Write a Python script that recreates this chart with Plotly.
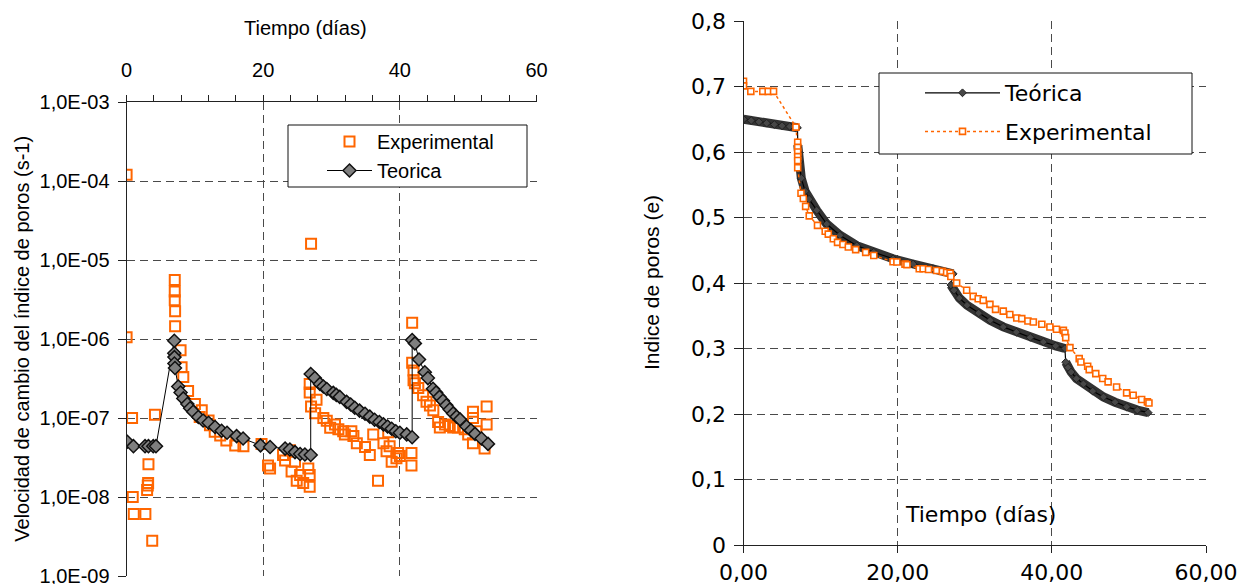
import plotly.graph_objects as go

# ---------------- Left panel: rate of change of void ratio (log scale) ----------------
t_exp_rate = [0.0, 0.0, 0.8, 0.9, 1.05, 2.75, 3.0, 3.1, 3.15, 3.2, 3.75, 4.15,
              7.05, 7.05, 7.05, 7.1, 7.1, 7.9, 8.05, 8.3, 9.0, 10.0, 10.7, 11.0,
              12.0, 12.2, 12.9, 13.7, 14.6, 15.9, 17.1, 19.75, 20.7, 21.0, 22.9,
              23.2, 23.9, 24.15, 24.65, 24.9, 25.4, 25.85, 26.6, 26.8, 26.8, 27.0,
              26.8, 26.8, 27.0, 27.6, 27.8, 28.8, 29.3, 29.8, 30.5, 31.0, 31.7,
              31.95, 32.9, 33.2, 33.7, 34.9, 35.6, 36.1, 36.8, 37.6, 38.05, 38.3,
              38.5, 38.8, 39.5, 39.75, 40.0, 41.7, 41.7, 41.8, 41.8, 42.0, 42.0,
              42.2, 42.7, 43.4, 43.9, 44.4, 44.9, 45.6, 45.85, 46.6, 47.3, 47.8,
              48.5, 49.5, 50.0, 50.7, 50.7, 50.7, 51.2, 52.4, 52.7, 52.7]
v_exp_rate = [1.2e-4, 1.05e-6, 1.0e-7, 1.0e-8, 6.1e-9, 6.1e-9, 1.23e-8, 1.4e-8,
              1.5e-8, 2.6e-8, 2.8e-9, 1.1e-7, 5.6e-6, 4.0e-6, 3.1e-6, 2.25e-6,
              1.45e-6, 7.2e-7, 4.4e-7, 3.3e-7, 2.2e-7, 1.5e-7, 1.03e-7, 1.25e-7,
              9.3e-8, 8.1e-8, 6.7e-8, 6.0e-8, 5.2e-8, 4.5e-8, 4.4e-8, 4.7e-8,
              2.5e-8, 2.3e-8, 3.4e-8, 2.9e-8, 3.9e-8, 2.1e-8, 2.8e-8, 1.6e-8,
              1.9e-8, 1.5e-8, 2.3e-8, 1.9e-8, 1.35e-8, 1.6e-5, 2.7e-7, 2.1e-7,
              1.4e-7, 1.15e-7, 1.7e-7, 1.0e-7, 9.2e-8, 7.5e-8, 8.3e-8, 7.2e-8,
              6.8e-8, 6.2e-8, 6.8e-8, 5.9e-8, 4.8e-8, 4.3e-8, 3.4e-8, 6.2e-8,
              1.6e-8, 4.8e-8, 3.8e-8, 6.6e-8, 4.4e-8, 2.8e-8, 3.1e-8, 3.6e-8,
              3.3e-8, 3.6e-8, 2.5e-8, 1.6e-6, 5.0e-7, 4.0e-7, 3.0e-7, 2.75e-7,
              2.4e-7, 1.94e-7, 1.6e-7, 1.44e-7, 1.25e-7, 8.9e-8, 7.6e-8, 8.3e-8,
              7.9e-8, 7.6e-8, 7.6e-8, 7.2e-8, 6.2e-8, 1.0e-7, 1.2e-7, 4.8e-8,
              6.8e-8, 4.1e-8, 8.3e-8, 1.4e-7]

t_teo_rate = [0.1, 1.0, 2.7, 3.2, 3.9, 4.3, 6.98, 6.98, 7.0, 7.0, 7.08, 7.56,
              7.9, 8.3, 8.9, 9.3, 9.75, 10.5, 11.2, 12.0, 12.95, 13.9, 14.7,
              16.1, 17.05, 19.6, 21.0, 23.2, 23.9, 24.65, 25.4, 26.1, 26.95,
              26.95, 27.55, 28.3, 28.8, 29.3, 30.25, 30.7, 31.2, 32.2, 32.8, 33.4,
              34.1, 34.9, 35.6, 36.3, 37.0, 37.6, 38.2, 38.8, 39.4, 40.0, 41.0,
              41.8, 41.8, 42.2, 42.8, 43.65, 44.1, 44.85, 45.3, 45.8, 46.3, 46.8,
              47.3, 47.8, 48.3, 48.8, 49.75, 50.4, 51.0, 51.95, 52.9]
v_teo_rate = [5.0e-8, 4.4e-8, 4.4e-8, 4.4e-8, 4.4e-8, 4.4e-8, 9.5e-7, 6.6e-7,
              5.9e-7, 4.9e-7, 4.3e-7, 2.5e-7, 2.1e-7, 1.77e-7, 1.5e-7, 1.33e-7,
              1.2e-7, 1.03e-7, 9.3e-8, 8.7e-8, 7.7e-8, 6.9e-8, 6.5e-8, 5.9e-8,
              5.5e-8, 4.5e-8, 4.3e-8, 4.1e-8, 4.0e-8, 3.7e-8, 3.5e-8, 3.45e-8,
              3.4e-8, 3.6e-7, 3.2e-7, 2.7e-7, 2.5e-7, 2.33e-7, 2.08e-7, 1.96e-7,
              1.85e-7, 1.6e-7, 1.48e-7, 1.35e-7, 1.24e-7, 1.13e-7, 1.04e-7,
              9.5e-8, 8.9e-8, 8.3e-8, 7.8e-8, 7.3e-8, 6.8e-8, 6.5e-8, 6.2e-8,
              5.7e-8, 9.7e-7, 8.8e-7, 5.5e-7, 3.8e-7, 3.2e-7, 2.35e-7, 2.1e-7,
              1.85e-7, 1.65e-7, 1.45e-7, 1.28e-7, 1.14e-7, 1.04e-7, 9.6e-8,
              7.8e-8, 7.0e-8, 6.3e-8, 5.5e-8, 4.7e-8]

rate_tickvals = [1e-9, 1e-8, 1e-7, 1e-6, 1e-5, 1e-4, 1e-3]
rate_ticktext = ["1,0E-09", "1,0E-08", "1,0E-07", "1,0E-06", "1,0E-05",
                 "1,0E-04", "1,0E-03"]
days_ticks = [0, 20, 40, 60]

# ---------------- Right panel: void ratio vs time ----------------
# theoretical curve, one array pair per loading stage
t_teo_s1 = [0.0, 1.0, 2.0, 3.0, 4.0, 5.0, 6.0, 7.0]
e_teo_s1 = [0.650, 0.648, 0.646, 0.644, 0.642, 0.640, 0.639, 0.637]
t_teo_s2 = [7.05, 7.2, 7.5, 8.0, 8.5, 9.5, 10.8, 12.5, 14.7, 16.9, 19.4, 22.0,
            24.6, 27.2]
e_teo_s2 = [0.610, 0.585, 0.560, 0.540, 0.528, 0.511, 0.490, 0.473, 0.457,
            0.447, 0.437, 0.429, 0.422, 0.414]
t_teo_s3 = [26.9, 27.3, 28.0, 29.0, 30.5, 32.0, 33.7, 35.4, 37.2, 38.9, 40.5,
            41.7]
e_teo_s3 = [0.397, 0.389, 0.377, 0.366, 0.354, 0.343, 0.333, 0.325, 0.317,
            0.310, 0.304, 0.300]
t_teo_s4 = [41.8, 42.1, 42.5, 43.2, 44.1, 45.3, 46.7, 48.2, 49.7, 51.1, 52.5]
e_teo_s4 = [0.279, 0.271, 0.264, 0.254, 0.246, 0.235, 0.226, 0.218, 0.211,
            0.206, 0.202]

t_exp_e = [0.0, 0.0, 0.95, 2.5, 3.2, 3.9, 6.8, 7.03, 7.03, 7.03, 7.03, 7.03,
           7.03, 7.46, 7.76, 8.06, 8.53, 9.6, 10.6, 11.0, 11.65, 12.2, 12.9,
           13.6, 14.55, 15.85, 16.9, 19.4, 19.9, 20.95, 21.2, 22.8, 23.3, 24.0,
           25.05, 25.8, 26.35, 26.8, 26.9, 27.65, 28.95, 29.8, 30.45, 31.1,
           31.97, 32.7, 33.7, 34.55, 35.45, 36.1, 36.9, 37.6, 38.7, 39.75, 40.6,
           41.5, 41.7, 41.8, 42.35, 43.55, 43.77, 44.65, 44.85, 45.7, 46.6, 47.3,
           48.4, 49.7, 50.55, 51.65, 52.4, 52.6]
e_exp_e = [0.708, 0.701, 0.6925, 0.6925, 0.6925, 0.6925, 0.638, 0.615, 0.607,
           0.600, 0.593, 0.587, 0.576, 0.537, 0.529, 0.517, 0.5025, 0.488, 0.479,
           0.4746, 0.4675, 0.462, 0.4588, 0.455, 0.451, 0.4467, 0.442, 0.4325,
           0.432, 0.4288, 0.428, 0.4218, 0.4218, 0.4207, 0.419, 0.4177, 0.416,
           0.415, 0.410, 0.400, 0.389, 0.3796, 0.376, 0.3735, 0.3674, 0.3598,
           0.357, 0.352, 0.3465, 0.3456, 0.342, 0.3404, 0.337, 0.3328, 0.3293,
           0.3277, 0.3236, 0.3166, 0.3014, 0.2846, 0.2794, 0.2729, 0.2678,
           0.2617, 0.2541, 0.249, 0.2413, 0.2322, 0.2287, 0.2221, 0.2185, 0.2167]

e_tickvals = [0, 0.1, 0.2, 0.3, 0.4, 0.5, 0.6, 0.7, 0.8]
e_ticktext = ["0", "0,1", "0,2", "0,3", "0,4", "0,5", "0,6", "0,7", "0,8"]
days_ticktext_r = ["0,00", "20,00", "40,00", "60,00"]

ORANGE = "#FF6600"
GRID = "#4a4a4a"
ARIAL = "'Liberation Sans', Arial, sans-serif"
WIDE = "'DejaVu Sans', sans-serif"
W, H = 1239, 584


def px_x(x):
    return x / W


def px_y(y):
    return (H - y) / H


fig = go.Figure()

# left panel traces
fig.add_trace(go.Scatter(
    x=t_exp_rate, y=v_exp_rate, mode="markers", name="Experimental",
    xaxis="x", yaxis="y", legend="legend",
    marker=dict(symbol="square-open", size=10, color=ORANGE,
                line=dict(width=2, color=ORANGE)),
))
fig.add_trace(go.Scatter(
    x=t_teo_rate, y=v_teo_rate, mode="lines+markers", name="Teorica",
    xaxis="x", yaxis="y", legend="legend",
    line=dict(color="black", width=1),
    marker=dict(symbol="diamond", size=10, color="#7f7f7f",
                line=dict(width=1.5, color="#111111")),
))

# right panel: thick band for each theoretical stage
stages = [(t_teo_s1, e_teo_s1), (t_teo_s2, e_teo_s2),
          (t_teo_s3, e_teo_s3), (t_teo_s4, e_teo_s4)]
for ts, es in stages:
    fig.add_trace(go.Scatter(
        x=ts, y=es, mode="lines", showlegend=False, hoverinfo="skip",
        xaxis="x2", yaxis="y2",
        line=dict(color="#333333", width=9),
    ))

t_teo_all = t_teo_s1 + t_teo_s2 + t_teo_s3 + t_teo_s4
e_teo_all = e_teo_s1 + e_teo_s2 + e_teo_s3 + e_teo_s4
fig.add_trace(go.Scatter(
    x=t_teo_all, y=e_teo_all, mode="lines+markers", name="Teórica",
    xaxis="x2", yaxis="y2", legend="legend2", legendgroup="teo",
    line=dict(color="black", width=1.2),
    marker=dict(symbol="diamond", size=6, color="#474747",
                line=dict(width=1, color="#222222")),
))
fig.add_trace(go.Scatter(
    x=t_exp_e, y=e_exp_e, mode="lines+markers", name="Experimental",
    xaxis="x2", yaxis="y2", legend="legend2", legendgroup="exp",
    line=dict(color=ORANGE, width=1.5, dash="dot"),
    marker=dict(symbol="square", size=6, color="white",
                line=dict(width=1.6, color=ORANGE)),
))

grid_common = dict(showgrid=True, gridcolor=GRID, gridwidth=1,
                   griddash="8px,5px", zeroline=False, showline=True,
                   linecolor="#222222", linewidth=1, ticks="outside",
                   tickcolor="#222222", automargin=False,
                   ticklabeloverflow="allow")

fig.update_layout(
    width=W, height=H,
    margin=dict(l=0, r=0, t=0, b=0, autoexpand=False),
    paper_bgcolor="white", plot_bgcolor="white",
    showlegend=True,
    xaxis=dict(domain=[px_x(126.6), px_x(536.5)], range=[0, 60], side="top",
               anchor="y", tickvals=days_ticks, ticklen=6,
               ticklabelstandoff=10,
               minor=dict(dtick=4, ticks="outside", ticklen=6,
                          tickcolor="#222222", showgrid=False),
               tickfont=dict(family=ARIAL, size=20, color="black"),
               **grid_common),
    yaxis=dict(domain=[px_y(576), px_y(102)], type="log", range=[-9, -3],
               anchor="x", tickvals=rate_tickvals, ticktext=rate_ticktext,
               ticklen=8, ticklabelstandoff=4,
               tickfont=dict(family=ARIAL, size=20, color="black"),
               **grid_common),
    xaxis2=dict(domain=[px_x(743.5), px_x(1206)], range=[0, 60],
                anchor="y2", tickvals=days_ticks, ticktext=days_ticktext_r,
                ticklen=7, ticklabelstandoff=1,
                tickfont=dict(family=WIDE, size=22, color="black"),
                **grid_common),
    yaxis2=dict(domain=[px_y(545), px_y(21)], range=[0, 0.8],
                anchor="x2", tickvals=e_tickvals, ticktext=e_ticktext,
                ticklen=9, ticklabelstandoff=3,
                tickfont=dict(family=WIDE, size=22, color="black"),
                **grid_common),
    legend=dict(x=px_x(322), y=px_y(122), xanchor="left", yanchor="top",
                bgcolor="rgba(0,0,0,0)", borderwidth=0, itemwidth=45,
                font=dict(family=ARIAL, size=20, color="black"),
                traceorder="normal"),
    legend2=dict(x=px_x(920), y=px_y(72), xanchor="left", yanchor="top",
                 bgcolor="rgba(0,0,0,0)", borderwidth=0, itemwidth=75,
                 font=dict(family=WIDE, size=22, color="black"),
                 traceorder="grouped", tracegroupgap=7),
    shapes=[
        dict(type="rect", xref="paper", yref="paper",
             x0=px_x(288), x1=px_x(527), y0=px_y(187), y1=px_y(125),
             line=dict(color="#111111", width=1), fillcolor="white",
             layer="above"),
        dict(type="rect", xref="paper", yref="paper",
             x0=px_x(879), x1=px_x(1192), y0=px_y(154), y1=px_y(73),
             line=dict(color="#111111", width=1), fillcolor="white",
             layer="above"),
    ],
    annotations=[
        dict(text="Tiempo (días)", xref="paper", yref="paper",
             x=px_x(305), y=px_y(28), xanchor="center", yanchor="middle",
             showarrow=False,
             font=dict(family=ARIAL, size=20, color="black")),
        dict(text="Velocidad de cambio del índice de poros (s-1)",
             xref="paper", yref="paper", x=px_x(21.7), y=px_y(339),
             xanchor="center", yanchor="middle",
             textangle=-90, showarrow=False,
             font=dict(family=ARIAL, size=20, color="black")),
        dict(text="Tiempo (días)", xref="paper", yref="paper",
             x=px_x(980), y=px_y(514), xanchor="center", yanchor="middle",
             showarrow=False,
             font=dict(family=WIDE, size=22, color="black")),
        dict(text="Indice de poros (e)", xref="paper", yref="paper",
             x=px_x(651), y=px_y(283), xanchor="center", yanchor="middle",
             textangle=-90, showarrow=False,
             font=dict(family=ARIAL, size=21, color="black")),
    ],
)

fig.write_html("out.html")
